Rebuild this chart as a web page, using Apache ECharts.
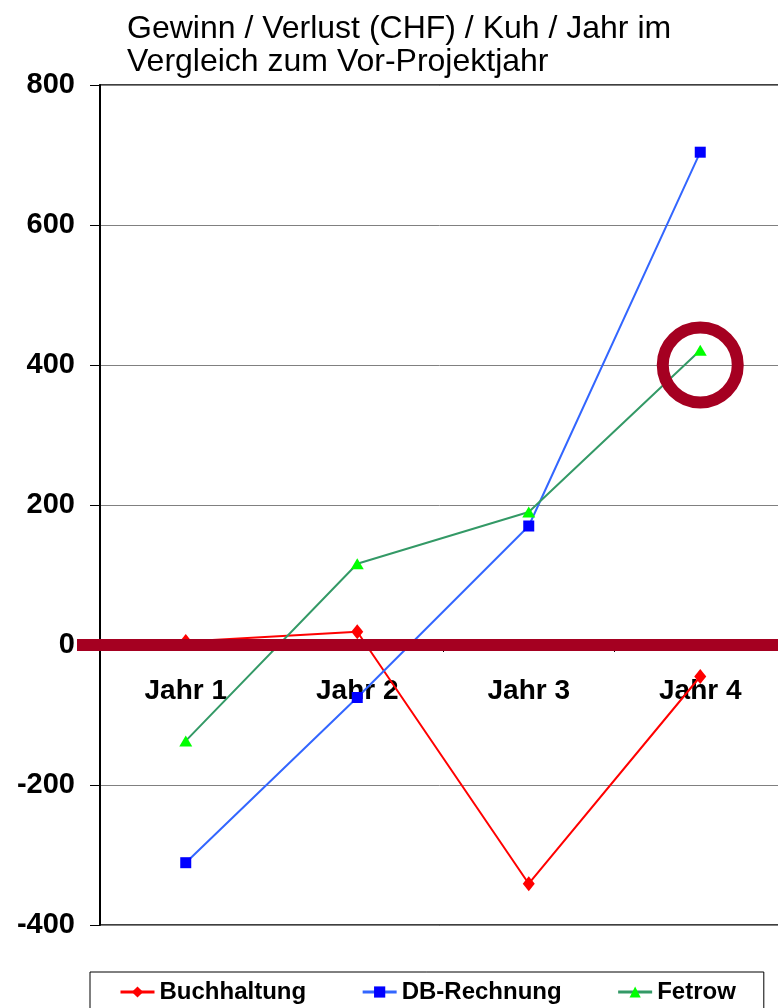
<!DOCTYPE html>
<html>
<head>
<meta charset="utf-8">
<script src="https://cdn.jsdelivr.net/npm/echarts@6/dist/echarts.min.js"></script>
<style>html,body{margin:0;padding:0;background:#fff;}#c{width:778px;height:1008px;}</style>
</head>
<body>
<div id="c"></div>
<script>
const categories = ['Jahr 1', 'Jahr 2', 'Jahr 3', 'Jahr 4'];
const buchhaltung = [5, 19, -341, -45];
const dbRechnung = [-311, -75, 170, 704];
const fetrow = [-137, 116, 190, 421];
const yTicks = [-400, -200, 0, 200, 400, 600, 800];
const titleText = 'Gewinn / Verlust (CHF) / Kuh / Jahr im\nVergleich zum Vor-Projektjahr';
const highlightPoint = ['Jahr 4', 400];

const FONT = '"Liberation Sans", Arial, sans-serif';
const chart = echarts.init(document.getElementById('c'), null, {renderer: 'canvas'});
chart.setOption({
  animation: false,
  backgroundColor: '#fff',
  title: {
    text: titleText,
    left: 122, top: 8,
    textStyle: {fontFamily: FONT, fontSize: 32, fontWeight: 'normal', color: '#000', lineHeight: 33}
  },
  grid: {left: 100, top: 85, width: 686, height: 840, outerBoundsMode: 'none', containLabel: false,
    show: true, borderColor: '#000', borderWidth: 1.5, backgroundColor: 'transparent'},
  legend: {
    data: ['Buchhaltung', 'DB-Rechnung', 'Fetrow'],
    left: 90, top: 972,
    padding: [8, 28, 30, 29],
    itemGap: 55, itemWidth: 34, itemHeight: 14,
    borderColor: '#000', borderWidth: 1,
    lineStyle: {width: 3},
    textStyle: {fontFamily: FONT, fontSize: 24, fontWeight: 'bold', color: '#000'}
  },
  xAxis: {
    type: 'category', data: categories, boundaryGap: true,
    position: 'bottom', offset: -280,
    axisLine: {onZero: false, lineStyle: {color: '#000', width: 1}},
    axisTick: {show: true, length: 7, lineStyle: {color: '#000'}},
    axisLabel: {fontFamily: FONT, fontSize: 28, fontWeight: 'bold', color: '#000', margin: 32},
    splitLine: {show: false}
  },
  yAxis: {
    type: 'value', min: -400, max: 800, interval: 200,
    axisLine: {show: true, lineStyle: {color: '#000', width: 2}},
    axisTick: {show: true, length: 10, lineStyle: {color: '#000'}},
    axisLabel: {fontFamily: FONT, fontSize: 29, fontWeight: 'bold', color: '#000', margin: 25,
      formatter: v => yTicks.indexOf(v) >= 0 ? String(v) : ''},
    splitLine: {show: true, lineStyle: {color: '#808080', width: 1}}
  },
  series: [
    {
      name: 'Buchhaltung', type: 'line', data: buchhaltung,
      symbol: 'diamond', symbolSize: [12, 15],
      lineStyle: {color: '#FF0000', width: 2},
      itemStyle: {color: '#FF0000'}
    },
    {
      name: 'DB-Rechnung', type: 'line', data: dbRechnung,
      symbol: 'rect', symbolSize: 11,
      lineStyle: {color: '#3366FF', width: 2},
      itemStyle: {color: '#0000FF'}
    },
    {
      name: 'Fetrow', type: 'line', data: fetrow,
      symbol: 'triangle', symbolSize: [13, 11],
      lineStyle: {color: '#339966', width: 2},
      itemStyle: {color: '#00FF00'}
    },
    {
      name: 'annot', type: 'line', data: [], z: 10, silent: true,
      markLine: {
        silent: true, symbol: 'none', label: {show: false},
        lineStyle: {color: '#A50021', width: 12, type: 'solid'},
        data: [
          {yAxis: 0},
          [{x: 77, yAxis: 0}, {x: 786, yAxis: 0}]
        ]
      },
      markPoint: {
        silent: true, symbol: 'circle', symbolSize: 75, label: {show: false},
        itemStyle: {color: 'rgba(0,0,0,0)', borderColor: '#A50021', borderWidth: 12},
        data: [{coord: highlightPoint}]
      }
    }
  ]
});
</script>
</body>
</html>
